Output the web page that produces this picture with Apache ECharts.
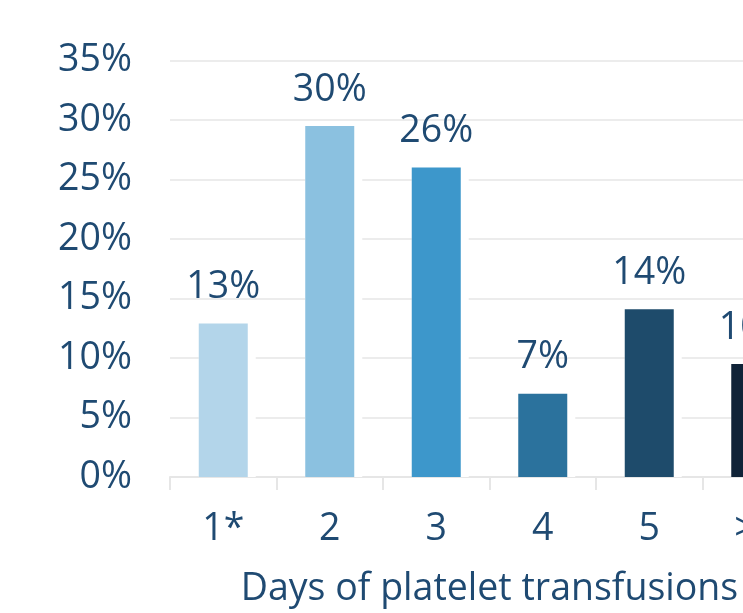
<!DOCTYPE html>
<html>
<head>
<meta charset="utf-8">
<script src="https://cdn.jsdelivr.net/npm/echarts@6/dist/echarts.min.js"></script>
<style>
  html, body { margin: 0; padding: 0; background: #ffffff; overflow: hidden; }
  #chart { width: 830px; height: 613px; }
</style>
</head>
<body>
<div id="chart"></div>
<script>
// Share of patients by number of days with platelet transfusions
const categories = ['1*', '2', '3', '4', '5', '>5'];
const shares = [12.9, 29.5, 26.0, 7.0, 14.1, 9.5];
const barColors = ['#b3d5ea', '#8bc1e0', '#3d97cb', '#2b729d', '#1e4b6b', '#102338'];
const yTicks = [0, 5, 10, 15, 20, 25, 30, 35];

const textColor = '#1f4a72';
const font = '"Open Sans", "Noto Sans", sans-serif';
const fontSize = 37.5;

const chart = echarts.init(document.getElementById('chart'), null, { renderer: 'canvas' });

chart.setOption({
  animation: false,
  grid: { left: 170, right: 21, top: 60.5, bottom: 135.5, containLabel: false },
  xAxis: {
    type: 'category',
    data: categories,
    name: 'Days of platelet transfusions',
    nameLocation: 'middle',
    nameGap: 93,
    nameTextStyle: { color: textColor, fontSize: fontSize, fontFamily: font },
    axisLine: { show: true, lineStyle: { color: '#e6e6e6', width: 2 } },
    axisTick: { show: true, length: 13, lineStyle: { color: '#e6e6e6', width: 2 } },
    axisLabel: { color: textColor, fontSize: fontSize, fontFamily: font, margin: 33 }
  },
  yAxis: {
    type: 'value',
    min: yTicks[0],
    max: yTicks[yTicks.length - 1],
    interval: 5,
    axisLine: { show: false },
    axisTick: { show: false },
    splitLine: { lineStyle: { color: '#ececec', width: 2 } },
    axisLabel: {
      color: textColor, fontSize: fontSize, fontFamily: font, margin: 38,
      formatter: v => v + '%'
    }
  },
  series: [
    {
      // white halo behind each bar, breaking the grid lines next to it
      type: 'bar',
      silent: true,
      barWidth: 57,
      data: shares,
      itemStyle: { color: '#ffffff' },
      z: 2
    },
    {
      type: 'bar',
      barWidth: 49,
      barGap: '-100%',
      data: shares.map((v, i) => ({ value: v, itemStyle: { color: barColors[i] } })),
      label: {
        show: true,
        position: 'top',
        distance: 17,
        color: textColor,
        fontSize: fontSize,
        fontFamily: font,
        formatter: p => Math.round(p.value) + '%'
      },
      z: 3
    }
  ]
});
</script>
</body>
</html>
